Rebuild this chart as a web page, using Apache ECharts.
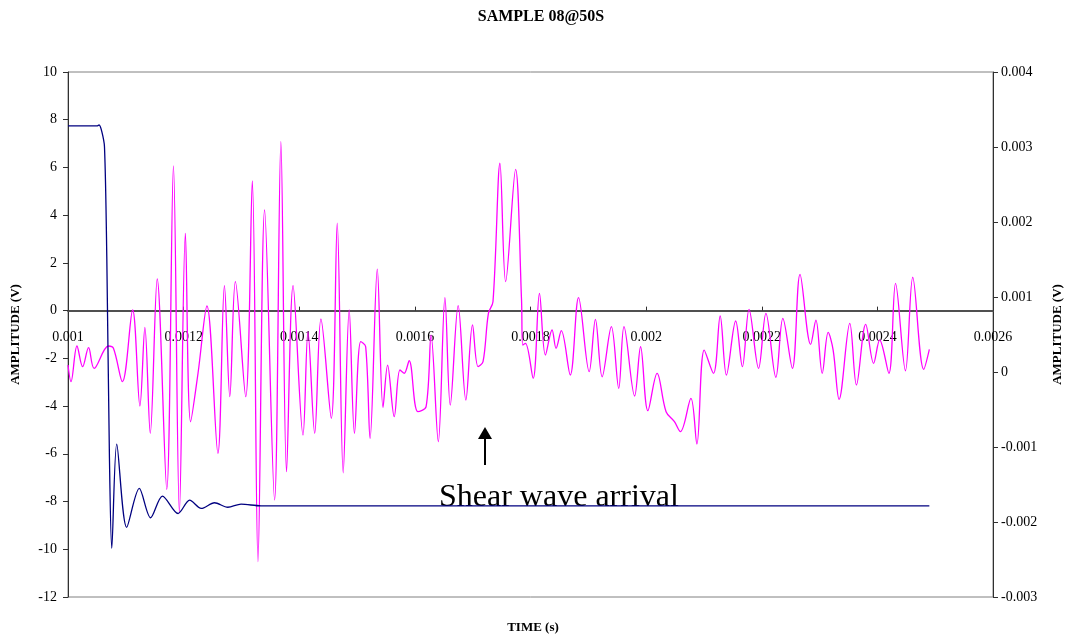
<!DOCTYPE html>
<html>
<head>
<meta charset="utf-8">
<title>SAMPLE 08@50S</title>
<script src="https://cdn.jsdelivr.net/npm/echarts@6/dist/echarts.min.js"></script>
<style>
  html, body { margin: 0; padding: 0; background: #fff; }
  #chart { width: 1072px; height: 640px; }
</style>
</head>
<body>
<div id="chart"></div>
<script>
// time (s) and amplitude (V), right axis signal
const pinkTime = [
  0.0010000, 0.0010052, 0.0010155, 0.0010253, 0.0010356, 0.0010452, 0.0010700, 0.0010786, 0.0010941, 0.0011118,
  0.0011244, 0.0011330, 0.0011423, 0.0011543, 0.0011708, 0.0011824, 0.0011927, 0.0012030, 0.0012121, 0.0012249,
  0.0012403, 0.0012593, 0.0012706, 0.0012799, 0.0012895, 0.0013074, 0.0013188, 0.0013286, 0.0013401, 0.0013573,
  0.0013682, 0.0013780, 0.0013893, 0.0014065, 0.0014151, 0.0014267, 0.0014375, 0.0014554, 0.0014657, 0.0014760,
  0.0014864, 0.0014955, 0.0015063, 0.0015149, 0.0015225, 0.0015350, 0.0015449, 0.0015528, 0.0015643, 0.0015741,
  0.0015815, 0.0015901, 0.0016051, 0.0016194, 0.0016280, 0.0016405, 0.0016520, 0.0016612, 0.0016749, 0.0016882,
  0.0016997, 0.0017093, 0.0017179, 0.0017272, 0.0017351, 0.0017472, 0.0017570, 0.0017742, 0.0017845, 0.0017867,
  0.0017914, 0.0018046, 0.0018155, 0.0018258, 0.0018373, 0.0018442, 0.0018533, 0.0018688, 0.0018831, 0.0019015,
  0.0019123, 0.0019239, 0.0019399, 0.0019526, 0.0019617, 0.0019801, 0.0019904, 0.0020030, 0.0020190, 0.0020345,
  0.0020490, 0.0020593, 0.0020775, 0.0020878, 0.0021005, 0.0021165, 0.0021281, 0.0021389, 0.0021549, 0.0021665,
  0.0021780, 0.0021945, 0.0022072, 0.0022244, 0.0022365, 0.0022530, 0.0022662, 0.0022846, 0.0022937, 0.0023046,
  0.0023149, 0.0023235, 0.0023338, 0.0023523, 0.0023638, 0.0023798, 0.0023935, 0.0024039, 0.0024199, 0.0024314,
  0.0024486, 0.0024612, 0.0024801, 0.0024899
]
const pinkAmp = [
  0.000093, -0.000129, 0.000347, 0.000071, 0.000324, 0.000049, 0.000347, 0.000316, -0.000129, 0.000827,
  -0.000453, 0.000596, -0.000817, 0.00124, -0.001564, 0.002747, -0.001876, 0.001849, -0.000663, -0.000017,
  0.00088, -0.001084, 0.001151, -0.000329, 0.001204, -0.000329, 0.002547, -0.002529, 0.00216, -0.001707,
  0.003071, -0.001329, 0.001151, -0.00084, 0.000537, -0.000817, 0.000707, -0.000617, 0.001983, -0.001343,
  0.000827, -0.000817, 0.000404, 0.000337, -0.000884, 0.001373, -0.000471, 0.000093, -0.000596, 0.000027,
  -0.000017, 0.000151, -0.000529, -0.000463, 0.000493, -0.000929, 0.000991, -0.00044, 0.000884, -0.000373,
  0.000627, 0.000071, 0.000137, 0.000783, 0.000937, 0.002783, 0.001204, 0.002703, 0.00096, 0.00036,
  0.000383, -0.000084, 0.001049, 0.000227, 0.00056, 0.000316, 0.000551, -0.00004, 0.000991, 0.000004,
  0.000703, -0.000063, 0.000604, -0.000217, 0.000604, -0.00032, 0.000337, -0.000516, -0.000017, -0.000529,
  -0.000663, -0.000796, -0.000351, -0.00096, 0.000293, -0.000017, 0.000747, -0.00004, 0.00068, 0.000071,
  0.000836, 0.000049, 0.000783, -0.000071, 0.000716, 0.000049, 0.001303, 0.000369, 0.000693, -0.000017,
  0.000529, 0.000293, -0.000364, 0.000649, -0.000173, 0.000636, 0.000116, 0.000427, -0.000017, 0.001183,
  0.000017, 0.001263, 0.000036, 0.000303
]

// left axis signal (V)
const blueTime = [
  0.0010000, 0.0010499, 0.0010538, 0.0010585, 0.0010631, 0.0010671, 0.0010717, 0.0010757, 0.0010843, 0.0011015,
  0.0011233, 0.0011428, 0.0011634, 0.0011904, 0.0012104, 0.0012305, 0.0012534, 0.0012764, 0.0012994, 0.0013338,
  0.0024899
]
const blueAmp = [
  7.74, 7.74, 7.78, 7.50, 6.87, 2.26, -6.19, -9.96, -5.59, -9.08,
  -7.45, -8.68, -7.77, -8.50, -7.94, -8.29, -8.05, -8.24, -8.11, -8.18,
  -8.18
]

const timeRange = [0.001, 0.0026, 0.0002]
const leftRange = [-12, 10, 2]
const rightRange = [-0.003, 0.004, 0.001]

const serif = '"Liberation Serif", "Times New Roman", serif'

const gridTop = 72
const gridBottom = 43
const plotH = 640 - gridTop - gridBottom
// shift the time axis up so it sits on the left axis zero line
const zeroShift = plotH * (0 - leftRange[0]) / (leftRange[1] - leftRange[0])

const chart = echarts.init(document.getElementById('chart'))

chart.setOption({
  animation: false,
  grid: {
    left: 68,
    right: 74,
    top: gridTop,
    bottom: gridBottom,
    show: true,
    borderColor: '#808080',
    borderWidth: 1
  },
  xAxis: {
    type: 'value',
    min: timeRange[0],
    max: timeRange[1],
    interval: timeRange[2],
    offset: -zeroShift,
    axisLine: { onZero: false, lineStyle: { color: '#505050', width: 2 } },
    axisTick: { inside: true, length: 4, lineStyle: { color: '#303030' } },
    axisLabel: { margin: 20, color: '#000', fontFamily: serif, fontSize: 14 },
    splitLine: { show: false }
  },
  yAxis: [
    {
      type: 'value',
      position: 'left',
      min: leftRange[0],
      max: leftRange[1],
      interval: leftRange[2],
      name: 'AMPLITUDE (V)',
      nameLocation: 'middle',
      nameRotate: 90,
      nameGap: 46,
      nameTextStyle: { color: '#000', fontFamily: serif, fontSize: 13, fontWeight: 'bold' },
      axisLine: { show: true, lineStyle: { color: '#303030' } },
      axisTick: { show: true, length: 5, lineStyle: { color: '#303030' } },
      axisLabel: { margin: 11, color: '#000', fontFamily: serif, fontSize: 14 },
      splitLine: { show: false }
    },
    {
      type: 'value',
      position: 'right',
      min: rightRange[0],
      max: rightRange[1],
      interval: rightRange[2],
      name: 'AMPLITUDE (V)',
      nameLocation: 'middle',
      nameRotate: 90,
      nameGap: 58,
      nameTextStyle: { color: '#000', fontFamily: serif, fontSize: 13, fontWeight: 'bold' },
      axisLine: { show: true, lineStyle: { color: '#303030' } },
      axisTick: { show: true, length: 5, lineStyle: { color: '#303030' } },
      axisLabel: { margin: 8, color: '#000', fontFamily: serif, fontSize: 14 },
      splitLine: { show: false }
    }
  ],
  series: [
    {
      type: 'line',
      yAxisIndex: 1,
      data: pinkTime.map((t, i) => [t, pinkAmp[i]]),
      showSymbol: false,
      smooth: 0.35,
      lineStyle: { color: '#ff00ff', width: 1.3 }
    },
    {
      type: 'line',
      yAxisIndex: 0,
      data: blueTime.map((t, i) => [t, blueAmp[i]]),
      showSymbol: false,
      smooth: 0.3,
      lineStyle: { color: '#000080', width: 1.3 }
    }
  ],
  graphic: [
    {
      type: 'text',
      style: {
        x: 541, y: 17, text: 'SAMPLE 08@50S',
        textAlign: 'center', textVerticalAlign: 'middle',
        font: 'bold 16px ' + serif, fill: '#000'
      }
    },
    {
      type: 'text',
      style: {
        x: 533, y: 628, text: 'TIME (s)',
        textAlign: 'center', textVerticalAlign: 'middle',
        font: 'bold 13px ' + serif, fill: '#000'
      }
    },
    {
      type: 'text',
      style: {
        x: 439, y: 498, text: 'Shear wave arrival',
        textAlign: 'left', textVerticalAlign: 'middle',
        font: '32px ' + serif, fill: '#000'
      }
    },
    {
      type: 'line',
      shape: { x1: 485, y1: 465, x2: 485, y2: 436 },
      style: { stroke: '#000', lineWidth: 2 }
    },
    {
      type: 'polygon',
      shape: { points: [[485, 427], [478, 439], [492, 439]] },
      style: { fill: '#000' }
    }
  ]
})
</script>
</body>
</html>
